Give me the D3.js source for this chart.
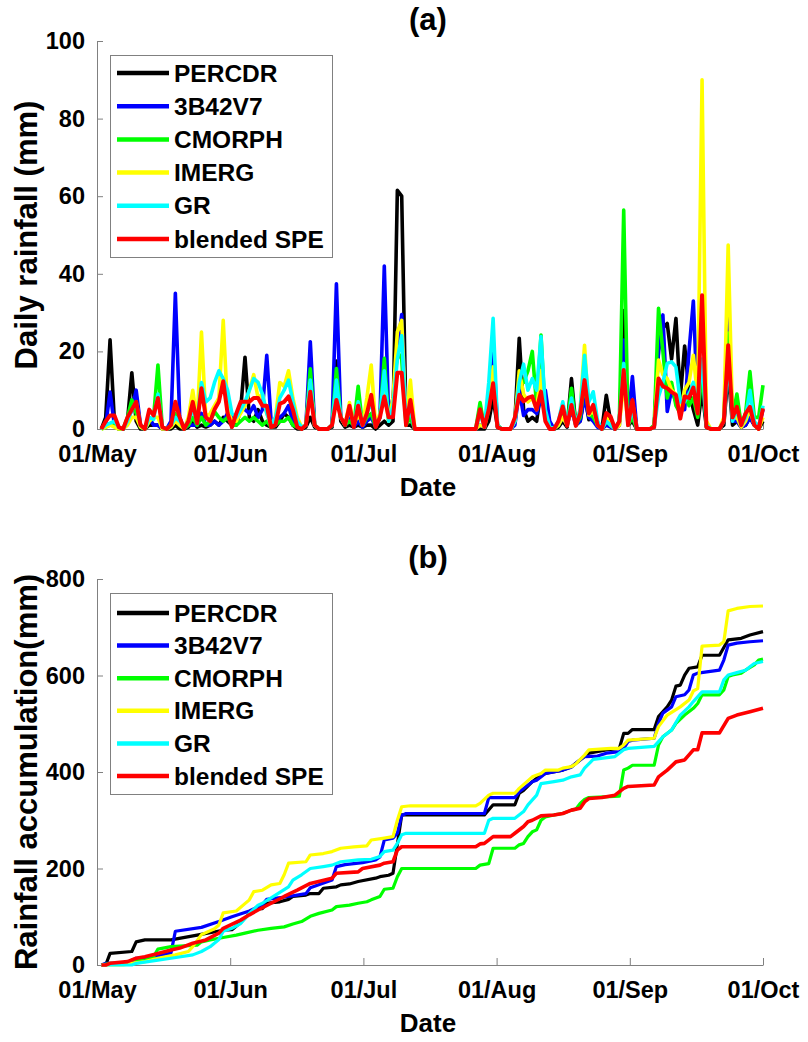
<!DOCTYPE html>
<html>
<head>
<meta charset="utf-8">
<script src="https://cdn.jsdelivr.net/npm/d3@7"></script>
<style>
  html, body { margin: 0; padding: 0; background: #fff; }
  svg { display: block; }
  text { font-family: "Liberation Sans", Arial, Helvetica, sans-serif; font-weight: bold; fill: #000; }
</style>
</head>
<body>
<svg id="fig" width="808" height="1042"></svg>
<script>
// ---- labels ----
const monthLabels = ["01/May", "01/Jun", "01/Jul", "01/Aug", "01/Sep", "01/Oct"];
const products = ["PERCDR", "3B42V7", "CMORPH", "IMERG", "GR", "blended SPE"];
const productColors = ["#000000", "#0000ff", "#00ff00", "#ffff00", "#00ffff", "#ff0000"];
const dailyTicks = [0, 20, 40, 60, 80, 100];
const accumTicks = [0, 200, 400, 600, 800];

// ---- daily rainfall (mm), one value per day from 1 May to 30 Sep ----
const dailyPERCDR = [
  0,3,23,2,0,0,2,14.5,2,0,0,1,1,1,0,0,0,1,0,0,0.5,2,0.5,1,0.5,1,2,1,3,2,1,
  1,5,18.5,3,2,5,2,1,0.5,0.5,2,4,3,1,0,0,0.5,3,0.5,0,0,0,0.5,17.5,2,0.5,1,0.5,1,0.5,
  1,1,0,1,2,1,2,61.5,60,1,1,0,0,0,0,0,0,0,0,0,0,0,0,0,0,0,0,0,2,8,0.5,
  0,0,0,2,23.4,5,2,3,2,10,5,0.5,0,0.5,2,0.5,13,1,2,9,2.4,3,1,0,8.7,2,0,1,30.5,1,2,
  0,0,0,0,0.5,20.4,26,27.2,18,28.5,8,21.4,10,5,1,10,0.5,0,0,0,1,15,1,2,0.5,1,3,1,0,2
];
const daily3B42V7 = [
  0,1,9.5,1,0,0,2,5,10,1,0,3,1,1,0,0,2,35,3,0,1,1,1,4,1,1,2,1,2,4,3,
  2,6,5,4,6,3,5,19,2,1,3,4,6,2,0.5,0,1,22.5,1,0,0,0,1,37.4,3,1,3,0.5,2,0.5,
  2,3,0.5,3,42,3,8,20,29.5,2,3,0,0,0,0,0,0,0,0,0,0,0,0,0,0,0,1,0.5,8,22,1,
  0,0,0,1,10,3.5,5,5,4,8,10,2,0,1,3,1,5,1,2,8,3,2,0.5,0,1,0.5,0,2,22.9,2,13.5,
  0,0,0,0,0.5,20,29.4,4.5,10,7,5,5,20,33,5,15,1,0,0,0,2,31.1,2,2,0.5,1,3,1,0.5,5
];
const dailyCMORPH = [
  0,0.5,1,1,0,0,3,7.5,4,0.5,0,2,3,16.5,0.5,0,1,4,1,0,1,3,1,3,1,2,4.5,3,2,3,1,
  1,2,3,2,3,2,1,2,0.5,1,2,2,3,1,0.5,0,1,15.5,1,0,0,0,1,15.6,3,1,2,1,11,1,
  3,4,0.5,3,18.2,2,6,20,18,1,3,0,0,0,0,0,0,0,0,0,0,0,0,0,0,0,6.8,0.5,5,14,1,
  0,0,0,2,12,12,15,20,6,24.2,3,0.5,0,1,4,1,10.5,1,3,12,4,3,1,0,2,1,0,2,56.4,1,3,
  0,0,0,0,1,31.1,20,8,12,6,4,9,6,8,3,15,1,0,0,0,2,24.7,3,9,1,4,14.8,3,3,11.3
];
const dailyIMERG = [
  0,0.5,1,0.5,0,0,1,3,3,0.5,0,2,3,3,0,0,0.5,2,1,0,3,10,2,25,3,4,6,8,28,5,2,
  2,4,6,10,14,8,9,4,1,3,12,11,15,8,3,0.5,1,12,1,0,0,0,1,9,3,1,6.8,1,4,1,
  8,16.5,1,4,10,2,8,25,28,2,12.6,0,0,0,0,0,0,0,0,0,0,0,0,0,0,0,1,0.5,6,16,1,
  0,0,0,2,15,9,7,8,5,15,3,0.5,0,1,3,1,6,1,5,21.6,3.6,5,1,0,3,1,0,1,12,1,7,
  0,0,0,0,0.5,17.8,14,13,10,9,5,10,12,19,8,90,2,0,0,0,3,47.4,3,3,0.5,2,5,1,0,3
];
const dailyGR = [
  0,1,1.5,2,0.5,0,2,5,7,1,0,3,2.5,9,0.5,0,1,3,2,0.5,2,5,2,12,7,8,12,15,13,10,4,
  3,5,7,10,13,12,9,4,1,3,8,10,12.6,7,2,0.5,1,12.6,1,0,0,0,1,12.6,3,1,5,1,7,1,
  4,7,1,3,15,2,6,18,24,2,5,0,0,0,0,0,0,0,0,0,0,0,0,0,0,0,4,0.5,12,28.5,1,
  0,0,0,2,12,16.7,10,13,10,23.8,5,0.5,0,2,7,1,8,1,5,19,7,9.6,2,0,2,1,0,2,16.9,1,5,
  0,0,0,0,0.5,8.3,12,16.9,17.3,16,7,7,9,12,6,18,1,0,0,0,2,18,2,5,1,3,10,2,0.5,6
];
const dailySPE = [
  0,2,3.5,3.5,0.5,0,3,5,7,1,0,5,3.5,8,0.5,0,1,7,3,0,2,7,1.5,10.5,3,2,5,7,12.3,4,0.5,
  4,7,7,7,8,8,6,6,0.5,1,6.5,7,8.4,5,0.5,0,1,9.6,1,0,0,0,1,7.5,3,1,6,0.5,6,1,
  4,8.8,0.5,3,8.4,3,3,14.5,14.5,1,7.5,0,0,0,0,0,0,0,0,0,0,0,0,0,0,0,5.1,0.5,5,11.8,0.5,
  0,0,0,3,8.8,7.1,8,8.4,5,9.6,2,0,0,2,5.8,0.8,6.2,0.8,4,12.6,4,6.2,1,0,4.1,3.2,0,2,15.2,1,7.5,
  0,0,0,0,0.5,13,11,10.5,9.5,8.8,2.7,8.4,8,10.7,4,34.5,0.5,0,0,0,2,21.6,3,5.7,1,4,5.7,1,0,5.3
];

// ---- accumulated rainfall (mm): [day index from 1 May, running total] ----
const accumPERCDR = [[0,0],[1,0],[2,24],[7,28],[8,48],[10,52],[16,52],[22,62],[28,72],[30,73],[32,88],[33,97],[34,107],[36,117],[37,117],[38,128],[41,131],[43,136],[44,142],[47,145],[48,148],[50,148],[51,159],[54,162],[55,166],[57,168],[59,173],[63,180],[64,183],[66,186],[67,190],[68,250],[69,311],[88,311],[90,332],[95,332],[96,356],[97,362],[99,380],[100,387],[102,397],[106,404],[108,411],[111,432],[112,439],[116,446],[119,449],[120,480],[121,480],[122,488],[127,488],[128,515],[130,535],[131,549],[132,578],[133,580],[134,601],[135,615],[137,618],[138,642],[142,642],[144,674],[147,677],[149,684],[152,691]];
const accum3B42V7 = [[0,0],[1,3.5],[6,3.5],[8,14],[12,17],[16,25],[17,70],[23,78],[27,90],[30,100],[34,112],[37,125],[38,136],[43,142],[47,148],[48,160],[53,176],[54,204],[56,208],[60,212],[63,218],[64,224],[65,259],[67,263],[68,273],[69,310],[70,314],[88,314],[89,347],[95,347],[96,359],[97,366],[99,380],[100,383],[102,397],[106,404],[108,410],[109,418],[111,432],[114,433],[116,439],[119,442],[120,449],[121,463],[122,466],[127,470],[128,501],[129,522],[131,535],[132,556],[134,560],[135,570],[136,601],[137,605],[142,611],[143,632],[144,663],[146,667],[149,670],[152,672]];
const accumCMORPH = [[0,0],[2,3.5],[6,3.5],[7,10],[10,10],[12,17],[13,33],[16,38],[22,41],[23,48],[25,52],[28,57],[31,62],[33,66],[36,72],[39,76],[42,79],[44,85],[46,90],[48,101],[50,107],[53,114],[54,121],[57,124],[59,128],[61,131],[62,135],[64,142],[65,157],[67,159],[68,183],[69,200],[86,200],[87,207],[89,210],[90,242],[95,242],[96,249],[97,252],[98,266],[99,276],[100,280],[101,300],[102,307],[104,311],[106,314],[108,321],[109,323],[110,335],[111,343],[112,347],[119,350],[120,404],[121,408],[122,414],[127,414],[128,456],[129,473],[131,487],[132,501],[134,518],[136,532],[137,542],[138,560],[142,560],[143,570],[144,598],[145,601],[147,605],[148,611],[150,622],[151,632],[152,634]];
const accumIMERG = [[0,0],[5,0],[7,3.5],[10,7],[13,14],[17,21],[20,28],[21,38],[23,63],[26,75],[27,83],[28,108],[31,112],[34,135],[35,152],[37,155],[39,166],[41,169],[42,187],[43,211],[47,214],[48,228],[51,231],[53,235],[55,242],[58,245],[61,247],[62,259],[65,263],[67,266],[68,300],[69,328],[71,330],[86,330],[87,335],[89,352],[90,356],[95,356],[96,366],[99,390],[101,397],[102,404],[105,404],[106,408],[108,411],[109,417],[111,435],[112,446],[117,449],[119,449],[120,456],[121,466],[127,470],[128,494],[130,518],[133,535],[135,549],[136,568],[137,573],[138,661],[142,663],[143,670],[144,734],[146,739],[149,743],[152,744]];
const accumGR = [[0,0],[7,0],[8,3.5],[13,10],[16,14],[21,21],[23,28],[25,38],[27,53],[28,70],[30,76],[32,86],[34,107],[36,124],[37,128],[40,145],[43,162],[44,176],[46,187],[48,200],[51,204],[53,207],[55,214],[59,218],[62,219],[64,225],[65,235],[67,238],[68,252],[69,270],[70,273],[88,273],[89,300],[90,304],[95,304],[97,318],[98,332],[100,352],[101,376],[104,380],[106,383],[108,390],[110,394],[111,408],[113,426],[118,432],[120,446],[121,449],[127,453],[128,463],[129,473],[131,487],[133,518],[135,535],[136,546],[138,566],[142,566],[143,591],[144,601],[146,606],[148,611],[149,618],[150,625],[152,629]];
const accumSPE = [[0,0],[1,0],[2,3.5],[6,7],[8,14],[10,17],[13,24],[16,31],[18,35],[21,45],[24,52],[27,66],[28,76],[32,93],[34,104],[36,114],[39,128],[42,142],[45,155],[48,169],[53,180],[54,190],[59,193],[60,200],[64,207],[65,211],[67,214],[68,238],[69,245],[86,245],[87,251],[88,252],[90,266],[94,266],[95,273],[97,287],[98,297],[99,300],[101,309],[104,311],[106,314],[108,321],[110,325],[111,338],[112,345],[115,347],[118,352],[120,366],[121,370],[127,373],[128,390],[130,404],[132,421],[134,425],[136,446],[137,446],[138,481],[142,481],[144,511],[146,518],[149,525],[152,532]];

const dailySeries = [dailyPERCDR, daily3B42V7, dailyCMORPH, dailyIMERG, dailyGR, dailySPE];
const accumSeries = [accumPERCDR, accum3B42V7, accumCMORPH, accumIMERG, accumGR, accumSPE];

// ---- layout ----
const svg = d3.select("#fig");
const axisColor = "#808080";
const fontStack = "'Liberation Sans', Arial, Helvetica, sans-serif";

// day of season: 1 May is day 1, 30 Sep is day 153
const x = d3.scaleLinear().domain([0, 153]).range([97, 763]);
const monthTickDays = d3.range(monthLabels.length).map(k => k * 153 / (monthLabels.length - 1));

function drawPanel(cfg) {
  const g = svg.append("g");
  const y = d3.scaleLinear().domain(cfg.yDomain).range([cfg.bottom, cfg.top]);

  // y axis, ticks pointing inward
  const ya = g.append("g")
    .attr("transform", `translate(${x.range()[0]},0)`)
    .call(d3.axisLeft(y).tickValues(cfg.yTicks).tickSizeInner(-6).tickSizeOuter(0).tickPadding(12));
  // x axis with month labels
  const xa = g.append("g")
    .attr("transform", `translate(0,${cfg.bottom})`)
    .call(d3.axisBottom(x).tickValues(monthTickDays).tickFormat((d, i) => monthLabels[i])
      .tickSizeInner(-7).tickSizeOuter(0));

  [ya, xa].forEach(a => {
    a.attr("font-family", fontStack).attr("font-size", 23.5).attr("font-weight", "bold");
    a.selectAll("path.domain, .tick line").attr("stroke", axisColor).attr("stroke-width", 1);
    a.selectAll("text").attr("fill", "#000");
  });
  xa.selectAll(".tick text").attr("y", 33).attr("dy", null);

  // series, red (blended) drawn last and on top
  const plot = g.append("g");
  cfg.series.forEach((s, k) => {
    plot.append("path")
      .datum(s)
      .attr("fill", "none")
      .attr("stroke", productColors[k])
      .attr("stroke-width", k === cfg.series.length - 1 ? cfg.lineWidth + 0.4 : cfg.lineWidth)
      .attr("stroke-linejoin", "round")
      .attr("d", cfg.line(y));
  });

  // title and axis labels
  g.append("text").attr("x", 428).attr("y", cfg.top - 11.5).attr("text-anchor", "middle")
    .attr("font-size", 31).text(cfg.title);
  g.append("text").attr("x", 428).attr("y", cfg.bottom + 67).attr("text-anchor", "middle")
    .attr("font-size", 26).text("Date");
  g.append("text")
    .attr("transform", `translate(37,${(cfg.top + cfg.bottom) / 2}) rotate(-90)`)
    .attr("text-anchor", "middle").attr("font-size", 31).text(cfg.yLabel);

  // legend
  const lg = g.append("g");
  lg.append("rect")
    .attr("x", 110.5).attr("y", cfg.legendTop + 0.5)
    .attr("width", 222).attr("height", cfg.legendHeight)
    .attr("fill", "#fff").attr("stroke", axisColor).attr("stroke-width", 1);
  products.forEach((name, k) => {
    const ry = cfg.legendTop + cfg.legendFirst + k * cfg.legendGap;
    lg.append("line").attr("x1", 117).attr("x2", 169).attr("y1", ry).attr("y2", ry)
      .attr("stroke", productColors[k]).attr("stroke-width", 4.5);
    lg.append("text").attr("x", 174).attr("y", ry).attr("dy", "0.35em")
      .attr("font-size", 24.5).text(name);
  });
}

drawPanel({
  title: "(a)",
  yLabel: "Daily rainfall (mm)",
  yDomain: [0, 100], yTicks: dailyTicks,
  top: 41, bottom: 429,
  series: dailySeries,
  lineWidth: 3.6,
  line: y => d3.line().x((d, i) => x(i + 1)).y(d => y(d)),
  legendTop: 55, legendHeight: 202, legendFirst: 18, legendGap: 33.2
});

drawPanel({
  title: "(b)",
  yLabel: "Rainfall accumulation(mm)",
  yDomain: [0, 800], yTicks: accumTicks,
  top: 579, bottom: 965,
  series: accumSeries,
  lineWidth: 3.2,
  line: y => d3.line().x(d => x(d[0] + 1)).y(d => y(d[1])),
  legendTop: 593, legendHeight: 201, legendFirst: 20, legendGap: 32.6
});
</script>
</body>
</html>
